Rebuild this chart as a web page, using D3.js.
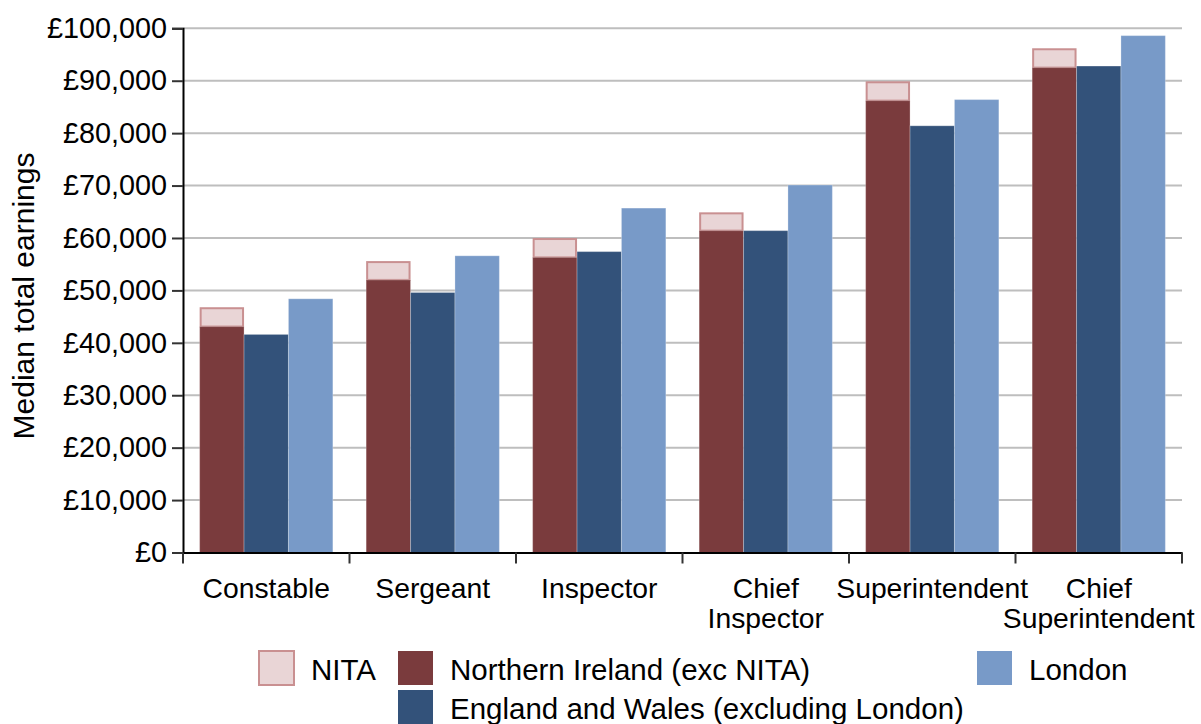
<!DOCTYPE html>
<html>
<head>
<meta charset="utf-8">
<script src="https://cdn.jsdelivr.net/npm/d3@7"></script>
<style>
  html, body { margin: 0; padding: 0; background: #fff; }
  svg { display: block; font-family: "Liberation Sans", Arial, sans-serif; }
</style>
</head>
<body>
<svg id="chart" width="1201" height="724"></svg>
<script>
// ---- data ----
const categories = ["Constable", "Sergeant", "Inspector", "Chief Inspector", "Superintendent", "Chief Superintendent"];
const categoryLines = [["Constable"], ["Sergeant"], ["Inspector"], ["Chief", "Inspector"], ["Superintendent"], ["Chief", "Superintendent"]];
const seriesNames = ["Northern Ireland (exc NITA)", "England and Wales (excluding London)", "London"];
const nitaName = "NITA";
const northernIreland = [43100, 52000, 56300, 61400, 86200, 92500];
const nitaTotal =       [46600, 55400, 59800, 64700, 89700, 96000];
const englandWales =    [41600, 49600, 57400, 61400, 81400, 92800];
const london =          [48400, 56600, 65700, 70100, 86400, 98600];
const yTicks = [0, 10000, 20000, 30000, 40000, 50000, 60000, 70000, 80000, 90000, 100000];
const yTitle = "Median total earnings";

// ---- layout ----
const colors = {
  ni: "#7A3B3D", ew: "#33527A", lon: "#789AC8",
  nitaFill: "#E9D5D6", nitaStroke: "#C99091"
};
const svg = d3.select("#chart");
const mLeft = 183, mRight = 1182, mTop = 28.3, mBottom = 552.5;

const x0 = d3.scaleBand().domain(categories).range([mLeft, mRight]).padding(0);
const x1 = d3.scaleBand().domain(seriesNames).range([0, x0.bandwidth()]).paddingInner(0).paddingOuter(0.375);
const y = d3.scaleLinear().domain([0, 100000]).range([mBottom, mTop]);

// gridlines
svg.append("g").selectAll("line").data(yTicks.filter(d => d > 0)).join("line")
  .attr("x1", mLeft).attr("x2", mRight)
  .attr("y1", d => y(d)).attr("y2", d => y(d))
  .attr("stroke", "#BEBEBE").attr("stroke-width", 2);

// bars
const seriesData = [northernIreland, englandWales, london];
const seriesColors = [colors.ni, colors.ew, colors.lon];
const rows = categories.map((c, i) => ({ c, i }));

// NITA segment
svg.append("g").selectAll("rect").data(rows).join("rect")
  .attr("x", d => x0(d.c) + x1(seriesNames[0]) + 1)
  .attr("width", x1.bandwidth() - 2)
  .attr("y", d => y(nitaTotal[d.i]))
  .attr("height", d => y(northernIreland[d.i]) - y(nitaTotal[d.i]))
  .attr("fill", colors.nitaFill)
  .attr("stroke", colors.nitaStroke).attr("stroke-width", 2);

seriesNames.forEach((s, si) => {
  svg.append("g").selectAll("rect").data(rows).join("rect")
    .attr("x", d => x0(d.c) + x1(s))
    .attr("width", x1.bandwidth())
    .attr("y", d => y(seriesData[si][d.i]))
    .attr("height", d => mBottom - y(seriesData[si][d.i]))
    .attr("fill", seriesColors[si])
    .attr("stroke", "rgba(255,255,255,0.25)").attr("stroke-width", 1);
});

// y axis
const yAxis = d3.axisLeft(y).tickValues(yTicks).tickSize(11).tickPadding(5)
  .tickFormat(d => "£" + d3.format(",")(d));
const gy = svg.append("g").attr("transform", `translate(${mLeft},0)`).call(yAxis);
gy.select(".domain").attr("stroke", "#000").attr("stroke-width", 2);
gy.selectAll(".tick line").attr("stroke", "#333").attr("stroke-width", 2);
gy.selectAll(".tick text").attr("font-size", 28.8).attr("fill", "#000")
  .attr("font-family", "'Liberation Sans', Arial, sans-serif");

// x axis
const xAxis = d3.axisBottom(x0).tickSize(0).tickFormat("");
const gx = svg.append("g").attr("transform", `translate(0,${mBottom})`).call(xAxis);
gx.select(".domain").attr("stroke", "#000").attr("stroke-width", 2);
const bounds = categories.map(c => x0(c)).concat([mRight]);
gx.selectAll(".bt").data(bounds).join("line").attr("class", "bt")
  .attr("x1", d => d).attr("x2", d => d).attr("y1", 0).attr("y2", 11)
  .attr("stroke", "#333").attr("stroke-width", 2);

// category labels
categories.forEach((c, i) => {
  const cx = x0(c) + x0.bandwidth() / 2;
  const t = svg.append("text")
    .attr("x", cx)
    .attr("y", 598)
    .attr("text-anchor", "middle")
    .attr("font-size", 28.3)
    .attr("fill", "#000");
  categoryLines[i].forEach((ln, li) => {
    t.append("tspan").attr("x", cx)
      .attr("dy", li === 0 ? 0 : 30).text(ln);
  });
});

// y title
svg.append("text")
  .attr("transform", "translate(34,296) rotate(-90)")
  .attr("text-anchor", "middle")
  .attr("font-size", 30)
  .attr("fill", "#000")
  .text(yTitle);

// legend
const legendItems = [
  { name: nitaName, fill: colors.nitaFill, stroke: colors.nitaStroke, x: 259, y: 651 },
  { name: seriesNames[0], fill: colors.ni, stroke: null, x: 398, y: 651 },
  { name: seriesNames[2], fill: colors.lon, stroke: null, x: 977, y: 651 },
  { name: seriesNames[1], fill: colors.ew, stroke: null, x: 398, y: 690 }
];
const lg = svg.append("g").selectAll("g").data(legendItems).join("g")
  .attr("transform", d => `translate(${d.x},${d.y})`);
lg.append("rect")
  .attr("x", 0).attr("y", 0)
  .attr("width", 35).attr("height", 34)
  .attr("fill", d => d.fill)
  .attr("stroke", d => d.stroke || "none")
  .attr("stroke-width", 2);
lg.append("text")
  .attr("x", 52).attr("y", 29)
  .attr("font-size", 29.5).attr("fill", "#000")
  .text(d => d.name);
</script>
</body>
</html>
